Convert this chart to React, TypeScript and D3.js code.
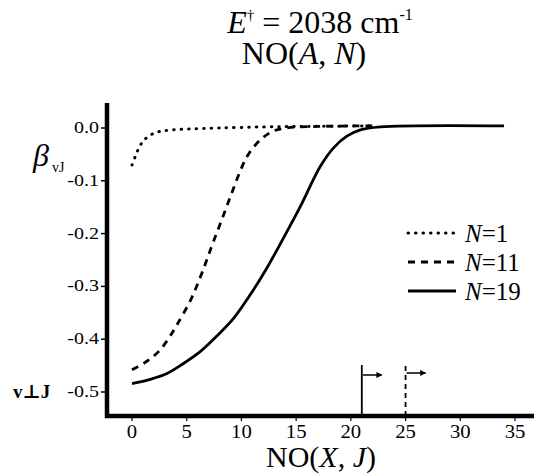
import React from "react";
import * as d3 from "d3";

const xTicks = [0, 5, 10, 15, 20, 25, 30, 35];
const yTicks = [0, -0.1, -0.2, -0.3, -0.4, -0.5];
const yTickLabels = ["0.0", "-0.1", "-0.2", "-0.3", "-0.4", "-0.5"];

const jN1 = [0, 0.3, 0.7, 1.2, 2, 3, 5, 8, 12, 16, 22];
const bN1 = [-0.07, -0.054, -0.035, -0.021, -0.01, -0.005, -0.002, 0, 0.002, 0.003, 0.004];

const jN11 = [0, 1.2, 2.4, 3.3, 4.1, 5.4, 6.4, 7.3, 8.2, 9.1, 10, 10.6, 11.7, 12.9, 14.1, 17, 22];
const bN11 = [-0.458, -0.444, -0.424, -0.4, -0.373, -0.324, -0.274, -0.223, -0.174, -0.124, -0.076, -0.051, -0.023, -0.006, 0, 0.003, 0.004];

const jN19 = [0, 1.65, 3.2, 4.7, 6.2, 7.7, 9.3, 10.8, 12.3, 13.8, 15.4, 17.2, 18.4, 19.6, 20.8, 22.7, 34];
const bN19 = [-0.484, -0.476, -0.465, -0.446, -0.424, -0.395, -0.36, -0.316, -0.266, -0.21, -0.148, -0.073, -0.038, -0.016, -0.004, 0.002, 0.004];

const markerJ = [21, 25];
const seriesNames = ["1", "11", "19"];

const serif = "'Liberation Serif', 'Times New Roman', Times, 'DejaVu Serif', 'Noto Serif', serif";

export default function App() {
  const x = d3.scaleLinear().domain([0, 35]).range([132, 515]);
  const y = d3.scaleLinear().domain([0, -0.5]).range([128, 392]);
  const line = d3
    .line<[number, number]>()
    .x((d) => x(d[0]))
    .y((d) => y(d[1]))
    .curve(d3.curveCatmullRom.alpha(0.5));
  const zip = (a: number[], b: number[]) => a.map((v, i) => [v, b[i]] as [number, number]);
  const series = [
    { d: zip(jN1, bN1), dash: "0.5 7", cap: "round" as const, w: 3 },
    { d: zip(jN11, bN11), dash: "7 6", cap: "butt" as const, w: 2.8 },
    { d: zip(jN19, bN19), dash: "none", cap: "butt" as const, w: 2.8 },
  ];
  const axisY = 416;
  const axisX = 107;
  const sx = (cx: number, k: number) => `translate(${cx},0) scale(${k},1) translate(${-cx},0)`;
  return (
    <svg width={539} height={476} style={{ position: "absolute", left: 0, top: 0, background: "#fff" }}>
      <defs>
        <marker id="arr" viewBox="0 0 10 10" refX="9" refY="5" markerWidth="4" markerHeight="4" orient="auto">
          <path d="M0,0 L10,5 L0,10 z" fill="#000" />
        </marker>
      </defs>
      {/* Title */}
      <text x={320} y={33} textAnchor="middle" fontFamily={serif} fontSize={32}>
        <tspan fontStyle="italic">E</tspan>
        <tspan dy={-13} fontSize={15}>†</tspan>
        <tspan dy={13}> = 2038 cm</tspan>
        <tspan dy={-13} fontSize={16}>-1</tspan>
      </text>
      <text x={304} y={64} textAnchor="middle" fontFamily={serif} fontSize={32}>
        NO(<tspan fontStyle="italic">A</tspan>, <tspan fontStyle="italic">N</tspan>)
      </text>
      {/* Axes */}
      <line x1={axisX} x2={axisX} y1={103} y2={axisY + 2} stroke="#000" strokeWidth={4.5} />
      <line x1={axisX - 2} x2={534} y1={axisY} y2={axisY} stroke="#000" strokeWidth={4.5} />
      {yTicks.map((t, i) => (
        <g key={"yt" + i}>
          <line x1={axisX - 6} x2={axisX} y1={y(t)} y2={y(t)} stroke="#000" strokeWidth={1.5} />
          <text x={axisX - 8} y={y(t) + 5} textAnchor="end" fontFamily={serif} fontSize={16}
            transform={sx(axisX - 8, 1.25)}>
            {yTickLabels[i]}
          </text>
        </g>
      ))}
      {xTicks.map((t) => (
        <g key={"xt" + t}>
          <line x1={x(t)} x2={x(t)} y1={axisY} y2={axisY + 5} stroke="#000" strokeWidth={1.2} />
          <text x={x(t)} y={438} textAnchor="middle" fontFamily={serif} fontSize={18}
            transform={sx(x(t), 1.15)}>
            {t}
          </text>
        </g>
      ))}
      {/* Y label */}
      <text x={33} y={166} fontFamily={serif} fontSize={32} fontStyle="italic">β</text>
      <text x={52} y={172} fontFamily={serif} fontSize={14}>vJ</text>
      <text x={13} y={398} fontFamily={serif} fontSize={19} fontWeight="bold">v⊥J</text>
      {/* X label */}
      <text x={321} y={467} textAnchor="middle" fontFamily={serif} fontSize={30}>
        NO(<tspan fontStyle="italic">X</tspan>, <tspan fontStyle="italic">J</tspan>)
      </text>
      {/* Curves */}
      {series.map((s, i) => (
        <path key={"s" + i} d={line(s.d) || ""} fill="none" stroke="#000" strokeWidth={s.w}
          strokeDasharray={s.dash} strokeLinecap={s.cap} />
      ))}
      {/* Markers */}
      {markerJ.map((j, i) => (
        <g key={"m" + i}>
          <line x1={x(j)} x2={x(j)} y1={axisY} y2={365} stroke="#000" strokeWidth={1.8}
            strokeDasharray={i === 0 ? "none" : "5 4"} />
          <line x1={x(j) + 1} x2={x(j) + 20} y1={375 - i * 2} y2={375 - i * 2} stroke="#000" strokeWidth={1.5}
            markerEnd="url(#arr)" />
        </g>
      ))}
      {/* Legend */}
      {series.map((s, i) => (
        <g key={"l" + i}>
          <line x1={408} x2={456} y1={233 + i * 29} y2={233 + i * 29} stroke="#000" strokeWidth={s.w}
            strokeDasharray={s.dash} strokeLinecap={s.cap} />
          <text x={465} y={242 + i * 29} fontFamily={serif} fontSize={25}>
            <tspan fontStyle="italic">N</tspan>={seriesNames[i]}
          </text>
        </g>
      ))}
    </svg>
  );
}
